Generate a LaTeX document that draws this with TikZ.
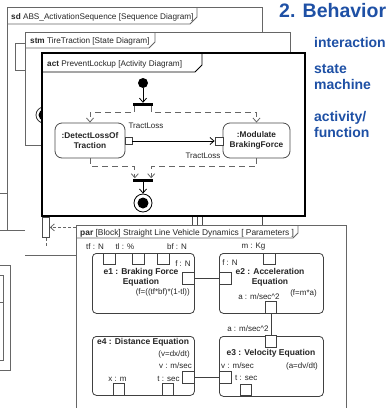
\documentclass[tikz,border=0pt]{standalone}
\usepackage{fontspec}
\setmainfont{Liberation Sans}
\usetikzlibrary{arrows.meta}
\definecolor{titleblue}{RGB}{30,80,165}
\begin{document}
\begin{tikzpicture}[x=1pt,y=-1pt,
  lbl/.style={inner sep=0pt, font=\fontsize{8}{9}\selectfont, text=black!85},
  tablbl/.style={inner sep=0pt, anchor=base west, font=\fontsize{8.2}{9}\selectfont, text=black!85},
  ttl/.style={inner sep=0pt, font=\fontsize{8.5}{9.6}\selectfont\bfseries, align=center, text=black!85},
  fr/.style={draw=black!60, line width=0.8pt},
  ebox/.style={draw=black!75, line width=0.8pt, rounded corners=4pt, fill=white, inner sep=0pt, anchor=north west},
  pinbox/.style={draw=black!75, line width=0.8pt, fill=white, minimum size=11.5pt, inner sep=0pt},
  conn/.style={draw=black!75, line width=0.8pt},
  action/.style={draw=black!70, line width=0.8pt, rounded corners=7pt, fill=white, align=center, font=\fontsize{8.3}{9.8}\selectfont\bfseries, text=black!85, inner sep=0pt, minimum width=70pt, minimum height=35pt},
  bar/.style={fill=black, inner sep=0pt, minimum width=20pt, minimum height=3pt},
  flow/.style={draw=black!60, dash pattern=on 6pt off 4pt, line width=0.8pt},
  tip/.style={-{Straight Barb[length=4pt,width=7pt]}},
  bluelbl/.style={inner sep=0pt, anchor=base west, text=titleblue, font=\fontsize{14}{16}\selectfont\bfseries}
]
\path[use as bounding box, clip] (0,0) rectangle (388,408);

% ---- sd frame (background)
\draw[fr] (25,230) -- (7,230) -- (7,7) -- (262,7) -- (262,40);
\draw[fr] (0,230) -- (7,230);
\draw[fr] (7,24) -- (190,24) -- (197,17) -- (197,7);
\node[tablbl] (sdlabel) at (11,19) {\textbf{sd} ABS\_ActivationSequence [Sequence Diagram]};
\draw[fr] (25,43) -- (15,43) -- (15,70) -- (25,70);
\draw[fr] (0,193) -- (7,193);
\draw[fr] (25,255) -- (76,255);
% left partial boxes
\draw[fr] (0,265) -- (10,265) -- (10,370) -- (0,370);
\draw[fr] (0,275) -- (3,275) -- (3,360) -- (0,360);
\draw[fr] (0,302) -- (3,302);

% ---- stm frame
\fill[white] (25,32) rectangle (290,145);
\draw[fr] (42,145) -- (25,145) -- (25,32) -- (290,32) -- (290,60);
\draw[fr] (25,48) -- (149,48) -- (155,42) -- (155,32);
\node[tablbl] (stmlabel) at (30,43) {\textbf{stm} TireTraction [State Diagram]};
\draw[black!80, line width=0.8pt] (44,115) circle (8pt);
\fill[black] (44,115) circle (5.5pt);

% ---- act frame
\draw[line width=2pt, fill=white] (42,53) rectangle (305,216);
\draw[line width=0.8pt] (42,72) -- (195,72) -- (202,65) -- (202,53);
\node[tablbl] (actlabel) at (47,66) {\textbf{act} PreventLockup [Activity Diagram]};

\node[circle, fill=black, minimum size=10pt, inner sep=0pt] (init) at (143,83) {};
\node[bar] (fork) at (143,104.5) {};
\draw[tip, line width=0.8pt] (init) -- (fork);
\node[action] (detect) at (90,140.5) {:DetectLossOf\\Traction};
\node[action, minimum width=67pt] (modulate) at (256.5,140.5) {:Modulate\\BrakingForce};
\node[pinbox, minimum size=7pt] (dpin) at (128.5,141) {};
\node[pinbox, minimum size=8pt] (mpin) at (219,141) {};
\draw[tip, line width=0.8pt] (dpin) -- (mpin);
\node[lbl] (tl1) at (146,126) {TractLoss};
\node[lbl] (tl2) at (203,156) {TractLoss};
\draw[flow, tip] ([xshift=2pt]fork.south west) -- ++(0,6) -| (detect.north);
\draw[flow, tip] ([xshift=-2pt]fork.south east) -- ++(0,6) -| (modulate.north);
\node[bar] (join) at (143,180) {};
\draw[flow, tip] (detect.south) -- ++(0,8) -| ([xshift=2pt]join.north west);
\draw[flow, tip] (modulate.south) -- ++(0,8) -| ([xshift=-2pt]join.north east);
\node[circle, draw, line width=0.8pt, minimum size=18pt, inner sep=0pt] (final) at (143,203) {};
\node[circle, fill=black, minimum size=11pt, inner sep=0pt] (finaldot) at (final.center) {};
\draw[tip, line width=0.8pt] (join) -- (final);

% ---- lifeline ticks between frames
\draw[black!70, line width=0.6pt] (192,217) -- (192,225);
\draw[black!70, line width=0.6pt] (197,217) -- (197,225);
\draw[black!70, line width=0.6pt] (202,217) -- (202,225);
\draw[black!70, line width=0.6pt] (262,217) -- (262,225);

% ---- port
\node[draw=black!70, line width=0.8pt, minimum width=7pt, minimum height=20pt, inner sep=0pt, anchor=north west] (port) at (42,217) {};
\draw[flow, dash pattern=on 3pt off 2pt] (port.south) -- ++(0,9) coordinate (portend);

% ---- par frame
\node[draw=black!60, line width=0.8pt, fill=white, anchor=north west, minimum width=270pt, minimum height=200pt, inner sep=0pt] (par) at (76,225) {};
\draw[flow, dash pattern=on 3pt off 2pt, tip] (par.west |- port.east) -- (port.east);
\draw[fr] (76,238) -- (293,238) -- (298,233) -- (298,225);
\node[tablbl, font=\fontsize{8.4}{9}\selectfont] (parlabel) at (80,235) {\textbf{par} [Block] Straight Line Vehicle Dynamics [ Parameters ]};

% e1
\node[ebox, minimum width=102pt, minimum height=60pt] (e1) at (92,253) {};
\node[pinbox] (e1p1) at (109.5,259) {};
\node[pinbox] (e1p2) at (138.5,259) {};
\node[pinbox] (e1p3) at (163.5,259) {};
\node[pinbox] (e1r) at (188.5,278.5) {};
\node[lbl] (e1l1) at (95,247) {tf : N};
\node[lbl] (e1l2) at (125,247) {tl : \%};
\node[lbl] (e1l3) at (177,247) {bf : N};
\node[lbl] (e1l4) at (183,263.5) {f : N};
\node[ttl] (e1t) at (141,277.5) {e1 : Braking Force\\Equation};
\node[lbl, anchor=east] (e1f) at (190,292) {(f=((tf*bf)*(1-tl))};

% e2
\node[ebox, minimum width=104pt, minimum height=60pt] (e2) at (219,253) {};
\node[pinbox] (e2t) at (269.5,259) {};
\node[pinbox] (e2l) at (225.5,278.5) {};
\node[pinbox] (e2b) at (271,307.5) {};
\node[lbl] (e2l1) at (253.5,247) {m : Kg};
\node[lbl] (e2l2) at (230,263) {f : N};
\node[ttl] (e2ti) at (270,277) {e2 : Acceleration\\Equation};
\node[lbl] (e2l3) at (259,297) {a : m/sec\textasciicircum 2};
\node[lbl] (e2f) at (303.5,293) {(f=m*a)};

% e3
\node[ebox, minimum width=104pt, minimum height=60pt] (e3) at (219,336) {};
\node[pinbox] (e3t) at (271,341.5) {};
\node[pinbox] (e3l) at (225.5,377.5) {};
\node[pinbox] (e3b) at (246,390) {};
\node[lbl] (e3l1) at (248,329) {a : m/sec\textasciicircum 2};
\node[ttl] (e3ti) at (271,353) {e3 : Velocity Equation};
\node[lbl, anchor=west] (e3l2) at (221,366) {v : m/sec};
\node[lbl] (e3f) at (302,366) {(a=dv/dt)};
\node[lbl, anchor=west] (e3l3) at (235,378) {t : sec};

% e4
\node[ebox, minimum width=102pt, minimum height=59pt] (e4) at (92,336) {};
\node[pinbox] (e4r) at (188.5,377.5) {};
\node[pinbox] (e4b1) at (119,389.5) {};
\node[pinbox] (e4b2) at (168,389.5) {};
\node[ttl] (e4ti) at (143,342) {e4 : Distance Equation};
\node[lbl, anchor=east] (e4f) at (190,354) {(v=dx/dt)};
\node[lbl, anchor=east] (e4l1) at (192,366) {v : m/sec};
\node[lbl] (e4l2) at (117.5,379) {x : m};
\node[lbl] (e4l3) at (168.5,379) {t : sec};

% connectors
\draw[conn] (e1r.east) -- (e2l.west);
\draw[conn] (e2b.south) -- (e3t.north);
\draw[conn] (e4r.east) -- (e3l.west);

% ---- blue titles
\node[bluelbl, font=\fontsize{19.5}{22}\selectfont\bfseries] (title) at (279,17) {2. Behavior};
\node[bluelbl] (b1) at (314,47) {interaction};
\node[bluelbl] (b2) at (314,73) {state};
\node[bluelbl] (b3) at (314,89) {machine};
\node[bluelbl] (b4) at (314,121) {activity/};
\node[bluelbl] (b5) at (314,137) {function};
\end{tikzpicture}
\end{document}
